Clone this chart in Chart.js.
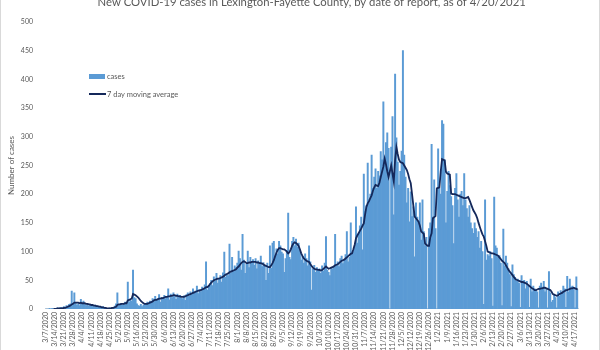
<!DOCTYPE html>
<html>
<head>
<meta charset="utf-8">
<script src="https://cdn.jsdelivr.net/npm/chart.js@4.4.1/dist/chart.umd.min.js"></script>
<style>
    body { margin: 0; background: #fff; }
    #wrap { position: relative; width: 600px; height: 350px; overflow: hidden; background: #fff; }
    #myChart { position: absolute; left: 0; top: -10px; }
    #frame { position: absolute; left: 0; top: 0; width: 598px; height: 350px; border-left: 1px solid #d9d9d9; border-right: 1px solid #d9d9d9; pointer-events: none; }
    #legend { position: absolute; left: 89px; top: 67px; font-family: Lato, sans-serif; font-size: 7.5px; color: #595959; }
    #legend div { height: 18px; display: flex; align-items: center; }
    #legend .box { display: inline-block; width: 16px; height: 5px; background: #5B9BD5; margin-right: 2px; }
    #legend .line { display: inline-block; width: 17px; height: 2px; background: #14285a; margin-right: 1px; }
</style>
</head>
<body>
<div id="wrap">
    <canvas id="myChart" width="600" height="360"></canvas>
    <div id="legend">
        <div><span class="box"></span>cases</div>
        <div><span class="line"></span>7 day moving average</div>
    </div>
    <div id="frame"></div>
</div>
<script>
// one label every 7 days, starting 3/7/2020
const weekLabels = ['3/7/2020', '3/14/2020', '3/21/2020', '3/28/2020', '4/4/2020', '4/11/2020', '4/18/2020', '4/25/2020',
    '5/2/2020', '5/9/2020', '5/16/2020', '5/23/2020', '5/30/2020', '6/6/2020', '6/13/2020', '6/20/2020', '6/27/2020',
    '7/4/2020', '7/11/2020', '7/18/2020', '7/25/2020', '8/1/2020', '8/8/2020', '8/15/2020', '8/22/2020', '8/29/2020',
    '9/5/2020', '9/12/2020', '9/19/2020', '9/26/2020', '10/3/2020', '10/10/2020', '10/17/2020', '10/24/2020', '10/31/2020',
    '11/7/2020', '11/14/2020', '11/21/2020', '11/28/2020', '12/5/2020', '12/12/2020', '12/19/2020', '12/26/2020',
    '1/2/2021', '1/9/2021', '1/16/2021', '1/23/2021', '1/30/2021', '2/6/2021', '2/13/2021', '2/20/2021', '2/27/2021',
    '3/6/2021', '3/13/2021', '3/20/2021', '3/27/2021', '4/3/2021', '4/10/2021', '4/17/2021'];

// daily cases, one row per week (Sat..Fri)
const dailyCases = [
    0, 0, 0, 1, 0, 1, 0,
    1, 0, 2, 1, 2, 3, 2,
    4, 3, 6, 5, 8, 9, 31,
    8, 28, 10, 7, 9, 6, 17,
    9, 14, 8, 6, 10, 5, 7,
    6, 5, 4, 7, 3, 5, 4,
    3, 2, 4, 1, 2, 0, 1,
    2, 1, 3, 2, 5, 9, 28,
    6, 8, 10, 7, 9, 12, 11,
    47, 12, 15, 14, 68, 20, 18,
    9, 6, 5, 8, 4, 7, 10,
    9, 12, 8, 14, 10, 18, 13,
    22, 15, 18, 25, 12, 20, 19,
    24, 18, 22, 35, 16, 26, 20,
    28, 22, 17, 26, 20, 24, 19,
    18, 23, 15, 25, 28, 22, 30,
    26, 35, 28, 31, 40, 27, 34,
    30, 38, 35, 42, 82, 33, 39,
    44, 50, 41, 56, 48, 62, 45,
    52, 58, 47, 63, 99, 55, 60,
    58, 113, 62, 90, 66, 75, 72,
    80, 101, 88, 68, 130, 85, 62,
    78, 101, 72, 90, 81, 86, 76,
    88, 70, 84, 79, 92, 74, 81,
    75, 50, 80, 62, 110, 71, 115,
    118, 92, 105, 96, 118, 110, 99,
    96, 64, 88, 102, 167, 90, 86,
    118, 125, 110, 122, 108, 115, 102,
    85, 92, 80, 96, 88, 75, 110,
    82, 33, 70, 76, 64, 72, 68,
    70, 62, 75, 66, 80, 126, 68,
    64, 58, 72, 70, 75, 130, 76,
    82, 74, 88, 92, 79, 86, 95,
    135, 82, 90, 150, 96, 100, 108,
    178, 115, 130, 145, 160, 103, 235,
    170, 180, 254, 190, 200, 268, 210,
    230, 244, 210, 240, 232, 274, 260,
    361, 255, 290, 307, 280, 0, 282,
    335, 164, 409, 298, 256, 216, 240,
    275, 450, 268, 230, 185, 210, 152,
    204, 161, 178, 91, 185, 160, 150,
    185, 120, 190, 135, 110, 125, 0,
    140, 150, 287, 160, 225, 140, 0,
    279, 210, 200, 328, 322, 260, 150,
    205, 240, 215, 196, 180, 114, 210,
    236, 190, 160, 200, 205, 180, 236,
    190, 175, 160, 180, 150, 140, 132,
    150, 140, 125, 135, 106, 118, 100,
    8, 190, 85, 95, 92, 100, 88,
    5, 195, 110, 106, 90, 93, 80,
    6, 139, 75, 92, 80, 70, 60,
    4, 77, 60, 55, 48, 52, 45,
    3, 58, 45, 50, 35, 48, 40,
    3, 52, 30, 40, 35, 33, 30,
    2, 40, 45, 38, 48, 30, 36,
    2, 65, 28, 12, 15, 25, 20,
    2, 30, 22, 32, 28, 40, 35,
    3, 57, 30, 52, 38, 40, 35,
    2, 56, 34
];

// 7 day moving average
const movingAverage = [
    null, null, null, null, null, null, 0,
    0, 0, 1, 1, 1, 1, 1,
    2, 2, 3, 4, 5, 6, 8,
    9, 11, 11, 11, 11, 10, 11,
    10, 10, 10, 9, 9, 8, 8,
    7, 7, 6, 6, 5, 5, 4,
    4, 3, 3, 2, 2, 1, 1,
    1, 1, 2, 2, 3, 4, 7,
    8, 8, 9, 9, 9, 10, 10,
    15, 16, 17, 18, 26, 25, 24,
    22, 20, 17, 14, 12, 10, 9,
    9, 9, 10, 11, 12, 13, 15,
    16, 16, 17, 18, 18, 19, 19,
    20, 21, 21, 22, 22, 23, 23,
    24, 24, 23, 23, 22, 22, 21,
    21, 21, 22, 23, 24, 25, 26,
    27, 28, 29, 30, 31, 32, 32,
    33, 34, 35, 36, 38, 38, 40,
    43, 46, 48, 50, 51, 52, 53,
    53, 54, 55, 56, 58, 60, 61,
    62, 64, 65, 66, 67, 68, 69,
    72, 74, 77, 80, 82, 83, 82,
    80, 80, 81, 81, 82, 82, 82,
    82, 81, 81, 80, 80, 79, 78,
    76, 75, 74, 73, 73, 76, 80,
    85, 92, 98, 103, 106, 106, 105,
    104, 104, 102, 100, 97, 99, 104,
    110, 114, 116, 115, 113, 110, 104,
    97, 92, 88, 86, 84, 83, 82,
    78, 75, 72, 70, 69, 69, 68,
    68, 67, 68, 70, 72, 74, 72,
    70, 71, 72, 73, 74, 76, 77,
    78, 80, 82, 84, 85, 86, 88,
    90, 92, 94, 96, 97, 104, 112,
    123, 128, 132, 136, 140, 145, 149,
    165, 178, 184, 188, 193, 198, 206,
    212, 216, 215, 214, 220, 230, 239,
    248, 262, 252, 240, 230, 240, 250,
    236, 222, 260, 282, 270, 260, 256,
    255, 254, 250, 246, 242, 235, 226,
    219, 200, 180, 161, 158, 155, 152,
    145, 135, 133, 131, 114, 112, 110,
    110, 125, 132, 158, 160, 162, 210,
    211, 212, 240, 261, 260, 259, 239,
    236, 235, 234, 201, 200, 200, 200,
    199, 198, 197, 196, 195, 194, 193,
    193, 194, 195, 190, 184, 178, 172,
    168, 164, 158, 150, 143, 136, 130,
    126, 118, 110, 100, 99, 98, 97,
    97, 96, 95, 94, 93, 90, 87,
    84, 82, 80, 76, 72, 68, 65,
    62, 59, 56, 53, 51, 50, 49,
    48, 47, 47, 46, 45, 44, 42,
    40, 38, 36, 35, 33, 33, 34,
    35, 35, 36, 36, 37, 37, 36,
    35, 34, 33, 30, 26, 25, 24,
    23, 24, 26, 27, 28, 30, 31,
    33, 33, 34, 35, 36, 36, 37,
    36, 35, 34
];

const textColor = '#595959';
Chart.defaults.font.family = 'Lato';
Chart.defaults.color = textColor;

// category per day, labelled only on the weekly ticks
let dayLabels = [];
for (let i = 0; i < dailyCases.length; i++) {
    dayLabels.push(i % 7 === 0 ? weekLabels[i / 7] : '');
}

new Chart('myChart', {
    type: 'bar',
    data: {
        labels: dayLabels,
        datasets: [{
            type: 'line',
            label: '7 day moving average',
            data: movingAverage,
            borderColor: '#14285a',
            borderWidth: 1.8,
            pointRadius: 0,
            tension: 0,
            order: 0
        }, {
            label: 'cases',
            data: dailyCases,
            backgroundColor: '#5B9BD5',
            borderWidth: 0,
            barPercentage: 1,
            categoryPercentage: 1,
            order: 1
        }]
    },
    options: {
        responsive: false,
        devicePixelRatio: 1,
        animation: false,
        layout: {padding: {left: 0, right: 21.7, top: 0, bottom: 0}},
        plugins: {
            legend: {display: false},
            tooltip: {enabled: false},
            title: {
                display: true,
                fullSize: false,
                text: 'New COVID-19 cases in Lexington-Fayette County, by date of report, as of 4/20/2021',
                color: textColor,
                font: {size: 11.3, weight: 'normal'},
                padding: {top: 5.6, bottom: 12.8}
            }
        },
        scales: {
            x: {
                grid: {display: false, drawTicks: false},
                border: {display: true, color: '#d9d9d9'},
                ticks: {autoSkip: false, maxRotation: 90, minRotation: 90, padding: 3, font: {size: 7}},
                afterFit: function (scale) { scale.height = 41; }
            },
            y: {
                min: 0,
                max: 500,
                grid: {display: false, drawTicks: false},
                border: {display: false},
                ticks: {stepSize: 50, padding: 12, font: {size: 7}},
                title: {display: true, text: 'Number of cases', font: {size: 8}, padding: {top: 7, bottom: 0}},
                afterFit: function (scale) { scale.width = 45; }
            }
        }
    }
});
</script>
</body>
</html>
